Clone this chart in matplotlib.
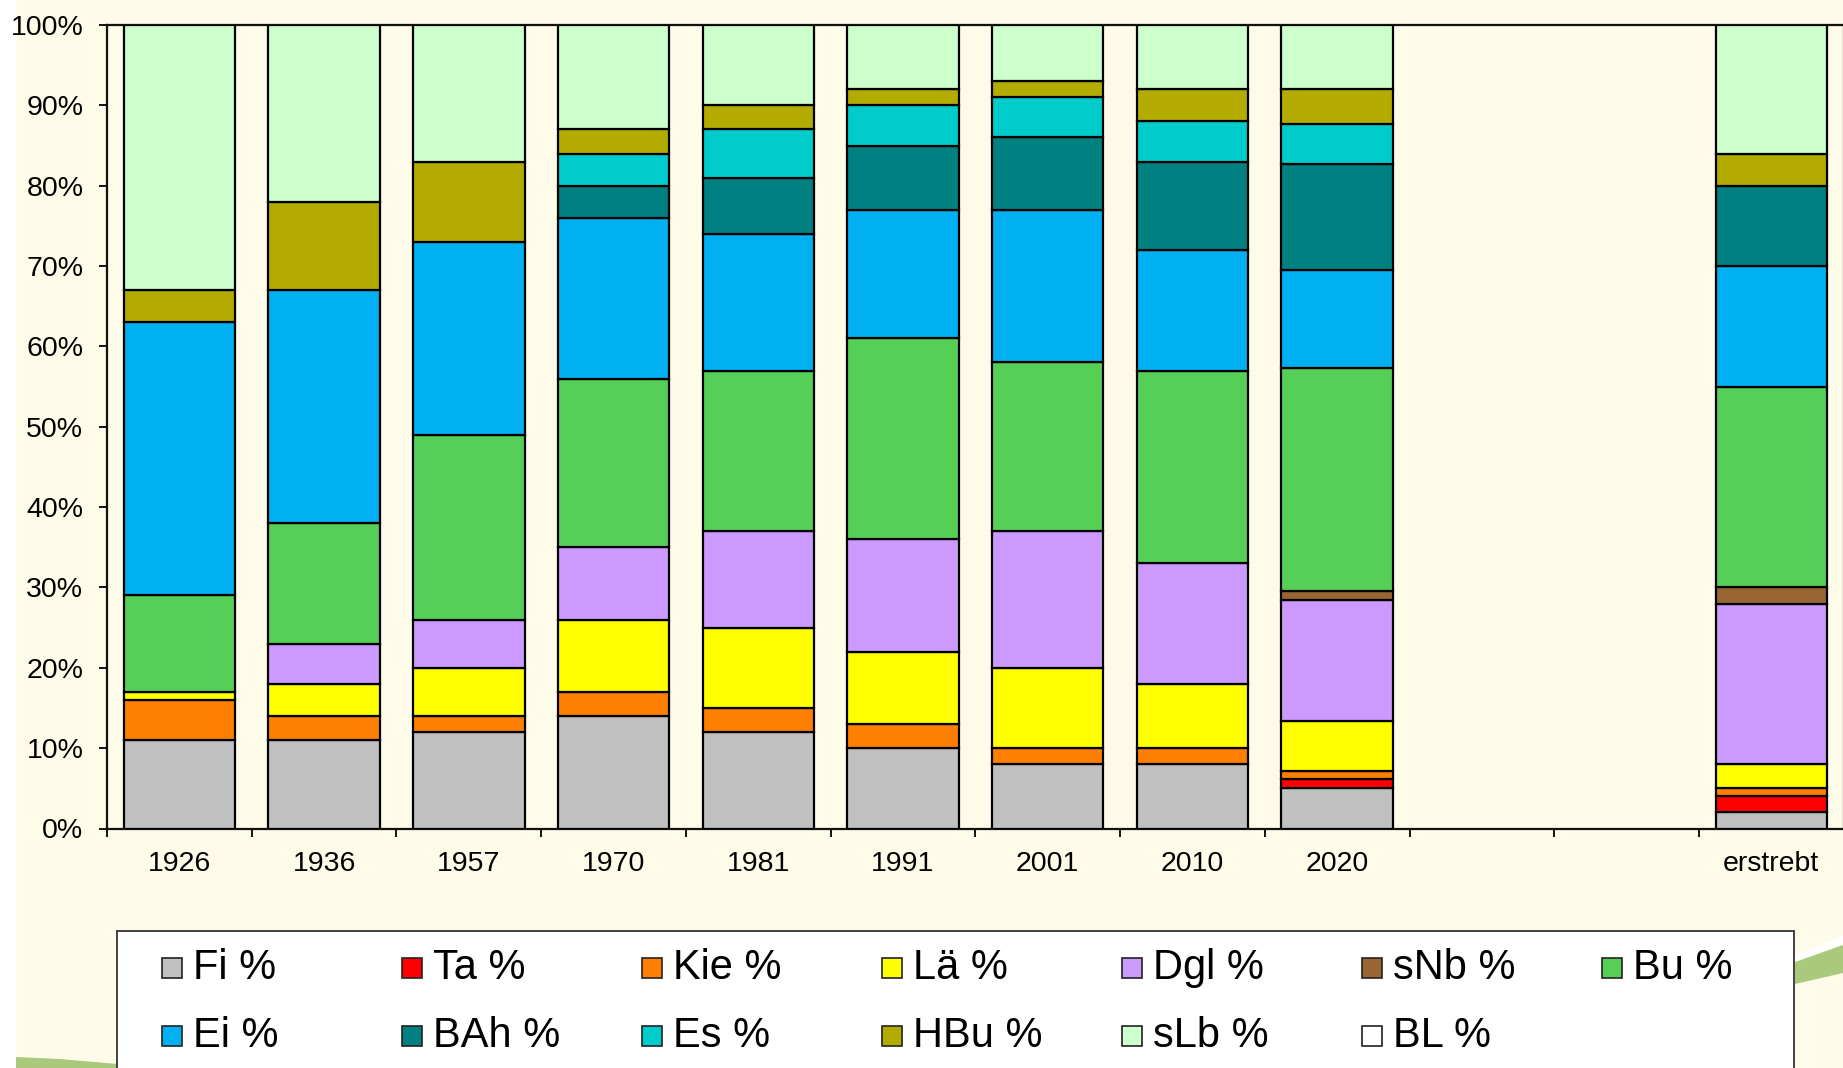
import numpy as np
import matplotlib.pyplot as plt
from matplotlib.patches import Rectangle, Polygon
from matplotlib.ticker import FixedLocator, PercentFormatter

plt.rcParams['font.family'] = ['Liberation Sans', 'DejaVu Sans']

# categories (two empty slots before the target column)
categories = ["1926", "1936", "1957", "1970", "1981", "1991", "2001", "2010", "2020", "", "", "erstrebt"]

# tree species shares in %, stacked from bottom to top
fi = [11, 11, 12, 14, 12, 10, 8, 8, 5.0, 0, 0, 2]
ta = [0, 0, 0, 0, 0, 0, 0, 0, 1.1, 0, 0, 2]
kie = [5, 3, 2, 3, 3, 3, 2, 2, 1.1, 0, 0, 1]
lae = [1, 4, 6, 9, 10, 9, 10, 8, 6.2, 0, 0, 3]
dgl = [0, 5, 6, 9, 12, 14, 17, 15, 15.1, 0, 0, 20]
snb = [0, 0, 0, 0, 0, 0, 0, 0, 1.0, 0, 0, 2]
bu = [12, 15, 23, 21, 20, 25, 21, 24, 27.8, 0, 0, 25]
ei = [34, 29, 24, 20, 17, 16, 19, 15, 12.2, 0, 0, 15]
bah = [0, 0, 0, 4, 7, 8, 9, 11, 13.2, 0, 0, 10]
es = [0, 0, 0, 4, 6, 5, 5, 5, 5.0, 0, 0, 0]
hbu = [4, 11, 10, 3, 3, 2, 2, 4, 4.3, 0, 0, 4]
slb = [33, 22, 17, 13, 10, 8, 7, 8, 8.0, 0, 0, 16]
bl = [0, 0, 0, 0, 0, 0, 0, 0, 0, 0, 0, 0]

series_labels = ["Fi %", "Ta %", "Kie %", "Lä %", "Dgl %", "sNb %", "Bu %",
                 "Ei %", "BAh %", "Es %", "HBu %", "sLb %", "BL %"]
series_values = [fi, ta, kie, lae, dgl, snb, bu, ei, bah, es, hbu, slb, bl]
series_colors = ["#C0C0C0", "#FF0000", "#FF8000", "#FFFF00", "#CC99FF", "#996633", "#56CF57",
                 "#00B0F0", "#008080", "#00CCCC", "#B4AB00", "#CCFFCC", "#FFFFFF"]

W, H = 1843, 1068
BG = "#FFFBE9"

fig = plt.figure(figsize=(W / 100, H / 100), dpi=100, facecolor=BG)


def fx(px):
    return px / W


def fy(py):
    return 1 - py / H


# white strip on the left edge of the slide
fig.patches.append(Rectangle((0, 0), fx(16), 1, transform=fig.transFigure,
                             facecolor="white", edgecolor="none", zorder=-1))

ax = fig.add_axes([fx(107), fy(828.5), fx(1843.7 - 107), fy(25) - fy(828.5)])
ax.set_facecolor(BG)

x = np.arange(len(categories))
bottom = np.zeros(len(categories))
for vals, col in zip(series_values, series_colors):
    vals = np.array(vals, dtype=float)
    mask = vals > 0
    ax.bar(x[mask], vals[mask], width=0.77, bottom=bottom[mask], color=col,
           edgecolor="black", linewidth=1.6, zorder=3)
    bottom += vals

ax.set_xlim(-0.5, len(categories) - 0.5)
ax.set_ylim(0, 100)

# y axis
ax.yaxis.set_major_locator(FixedLocator(np.arange(0, 101, 10)))
ax.yaxis.set_major_formatter(PercentFormatter(xmax=100, decimals=0))
ax.tick_params(axis="y", direction="out", length=6, width=1.3, pad=11,
               labelsize=20.5, colors="black")

# x axis: ticks between categories, labels centred
ax.set_xticks(np.arange(-0.5, len(categories), 1.0))
ax.set_xticklabels([])
ax.set_xticks(x, minor=True)
ax.set_xticklabels(categories, minor=True)
ax.tick_params(axis="x", which="major", direction="out", length=6, width=1.3)
ax.tick_params(axis="x", which="minor", length=0, pad=16.5, labelsize=20.5)

for s in ax.spines.values():
    s.set_linewidth(1.6)
    s.set_color("#111111")

# legend drawn as a framed box below the chart
fig.patches.append(Rectangle((fx(117), fy(1080)), fx(1794 - 117), fy(931) - fy(1080),
                             transform=fig.transFigure, facecolor="white",
                             edgecolor="#333333", linewidth=1.3, zorder=2))
row_y = [968, 1036]
col_x = [162 + 240 * i for i in range(7)]
for i, (lab, col) in enumerate(zip(series_labels, series_colors)):
    r, c = divmod(i, 7)
    sx, sy = col_x[c], row_y[r]
    fig.patches.append(Rectangle((fx(sx), fy(sy + 10)), fx(20), fy(sy - 10) - fy(sy + 10),
                                 transform=fig.transFigure, facecolor=col,
                                 edgecolor="#222222", linewidth=1.2, zorder=3))
    fig.text(fx(sx + 31), fy(sy), lab, fontsize=30, va="center", ha="left",
             color="black", zorder=4)

# green swooshes of the slide template
fig.patches.append(Polygon([(fx(16), fy(1057)), (fx(60), fy(1059)), (fx(118), fy(1064)),
                            (fx(118), fy(1068)), (fx(16), fy(1068))],
                           closed=True, transform=fig.transFigure,
                           facecolor="#A9C97C", edgecolor="none", zorder=1))
fig.patches.append(Polygon([(fx(1795), fy(955)), (fx(1843), fy(936)), (fx(1843), fy(945)),
                            (fx(1795), fy(962))],
                           closed=True, transform=fig.transFigure,
                           facecolor="white", edgecolor="none", zorder=1))
fig.patches.append(Polygon([(fx(1795), fy(962)), (fx(1843), fy(945)), (fx(1843), fy(973)),
                            (fx(1795), fy(984))],
                           closed=True, transform=fig.transFigure,
                           facecolor="#A9C97C", edgecolor="none", zorder=1))

fig.savefig("out.png", dpi=100, facecolor=BG)
